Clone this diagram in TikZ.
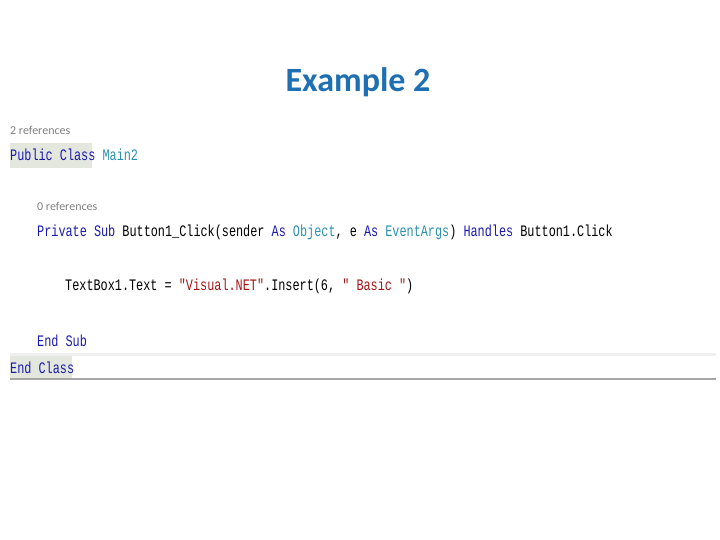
\documentclass[tikz,border=0pt]{standalone}
\usepackage{fontspec}
\setmainfont{Carlito}
\newfontfamily\code[FakeStretch=0.74]{Liberation Mono}
\definecolor{kw}{HTML}{1A1AB0}
\definecolor{ty}{HTML}{2B91AF}
\definecolor{st}{HTML}{A31515}
\definecolor{ttl}{HTML}{1F6FB3}
\definecolor{hl}{HTML}{E4E7DE}
\newcommand{\K}[1]{\textcolor{kw}{#1}}
\newcommand{\T}[1]{\textcolor{ty}{#1}}
\newcommand{\Sx}[1]{\textcolor{st}{#1}}
\begin{document}
\begin{tikzpicture}[x=1pt,y=-1pt,
  codeline/.style={anchor=west,inner sep=0pt,font=\code\fontsize{16}{16}\selectfont},
  refs/.style={anchor=west,inner sep=0pt,text=gray,font=\fontsize{12}{12}\selectfont}]
\useasboundingbox (0,0) rectangle (720,540);
\node[text=ttl,font=\bfseries\fontsize{34}{34}\selectfont] (title) at (358,82) {Example 2};
\fill[hl] (10,143) rectangle (92,168);
\fill[black!6] (10,353) rectangle (716,356);
\fill[hl] (10,356) rectangle (72,378);
\fill[black!35] (10,378) rectangle (716,380);
\node[refs] (r1) at (10,130) {2 references};
\node[codeline] (l1) at (10,155) {\K{Public Class} \T{Main2}};
\node[refs] (r2) at (37,206) {0 references};
\node[codeline] (l2) at (37,232) {\K{Private Sub} Button1\_Click(sender \K{As} \T{Object}, e \K{As} \T{EventArgs}) \K{Handles} Button1.Click};
\node[codeline] (l3) at (65,286) {TextBox1.Text = \Sx{"Visual.NET"}.Insert(6, \Sx{" Basic "})};
\node[codeline] (l4) at (37,341) {\K{End Sub}};
\node[codeline] (l5) at (10,368) {\K{End Class}};
\end{tikzpicture}
\end{document}
